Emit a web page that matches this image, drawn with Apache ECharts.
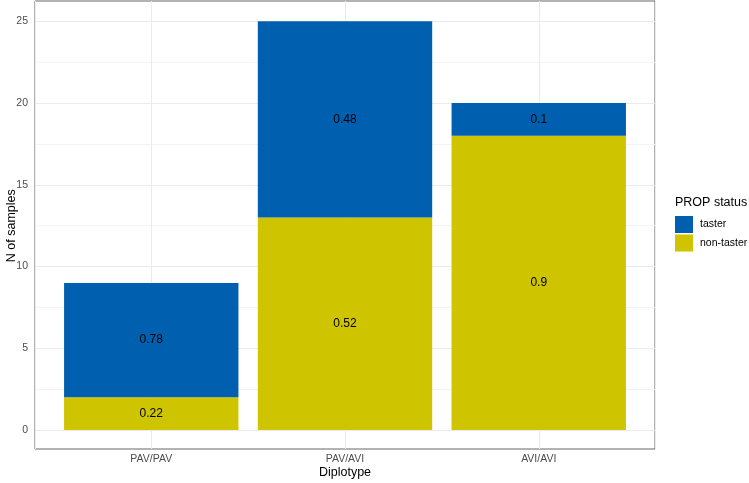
<!DOCTYPE html>
<html>
<head>
<meta charset="utf-8">
<script src="https://cdn.jsdelivr.net/npm/echarts@6/dist/echarts.min.js"></script>
<style>html,body{margin:0;padding:0;background:#fff}#c{width:749px;height:483px}</style>
</head>
<body>
<div id="c"></div>
<script>
const categories = ['PAV/PAV', 'PAV/AVI', 'AVI/AVI'];
const nonTaster = [2, 13, 18];
const taster = [7, 12, 2];
const nonTasterProp = ['0.22', '0.52', '0.9'];
const tasterProp = ['0.78', '0.48', '0.1'];
const yTicks = [0, 5, 10, 15, 20, 25];

const BLUE = '#0060AF';
const YELLOW = '#CFC400';
const FONT = 'Liberation Sans';

const chart = echarts.init(document.getElementById('c'), null, {renderer: 'canvas'});

// panel: x 35..655 covers category range 0.4..3.6 (ggplot expansion 0.6)
const PL = 35, PW = 620, unitW = PW / 3.2;

const option = {
  animation: false,
  textStyle: {fontFamily: FONT},
  title: {
    text: 'PROP status', left: 675, top: 196, padding: 0,
    textStyle: {fontFamily: FONT, fontSize: 12.5, fontWeight: 'normal', color: '#000'}
  },
  legend: {
    data: ['taster', 'non-taster'],
    orient: 'vertical', left: 675, top: 216, padding: 0,
    itemWidth: 18, itemHeight: 17, itemGap: 1.5, icon: 'rect',
    textStyle: {fontFamily: FONT, fontSize: 10.5, color: '#000', padding: [0, 0, 0, 2]}
  },
  grid: [
    {left: PL, top: 1, width: PW, height: 448, show: true, borderColor: '#666', borderWidth: 1,
      backgroundColor: 'transparent', containLabel: false, outerBoundsMode: 'none'},
    {left: PL + 0.1 * unitW, top: 21.35, width: 3 * unitW, height: 408.65, containLabel: false, outerBoundsMode: 'none'},
    {left: PL, top: 21.35, width: PW, height: 408.65, containLabel: false, outerBoundsMode: 'none'}
  ],
  xAxis: [
    {
      gridIndex: 0, type: 'value', min: 0.4, max: 3.6, minInterval: 1, maxInterval: 1,
      name: 'Diplotype', nameLocation: 'middle', nameGap: 17, nameMoveOverlap: false,
      nameTextStyle: {fontFamily: FONT, fontSize: 12.5, color: '#000'},
      axisLine: {show: false}, axisTick: {show: false},
      axisLabel: {
        margin: 5, fontSize: 10.5, color: '#4d4d4d', fontFamily: FONT,
        showMinLabel: false, showMaxLabel: false,
        formatter: v => (Number.isInteger(v) && categories[v - 1]) ? categories[v - 1] : ''
      },
      splitLine: {show: true, lineStyle: {color: '#ebebeb', width: 1}}
    },
    {gridIndex: 1, type: 'category', data: categories, boundaryGap: true, show: false},
    {gridIndex: 2, type: 'value', min: 0, max: 1, show: false, splitLine: {show: false}}
  ],
  yAxis: [
    {gridIndex: 0, type: 'value', min: 0, max: 1, show: false, splitLine: {show: false}},
    {gridIndex: 1, type: 'value', min: yTicks[0], max: yTicks[yTicks.length - 1], show: false, splitLine: {show: false}},
    {
      gridIndex: 2, type: 'value', min: yTicks[0], max: yTicks[yTicks.length - 1], interval: 5,
      name: 'N of samples', nameLocation: 'middle', nameGap: 17, nameMoveOverlap: false,
      nameTextStyle: {fontFamily: FONT, fontSize: 12.5, color: '#000'},
      axisLine: {show: false}, axisTick: {show: false},
      axisLabel: {margin: 7, fontSize: 10.5, color: '#4d4d4d', fontFamily: FONT},
      splitLine: {show: true, lineStyle: {color: '#ebebeb', width: 1}},
      minorTick: {show: false, splitNumber: 2},
      minorSplitLine: {show: true, lineStyle: {color: '#f3f3f3', width: 1}}
    }
  ],
  series: [
    {
      name: 'non-taster', type: 'bar', stack: 'a', xAxisIndex: 1, yAxisIndex: 1,
      barWidth: '90%', data: nonTaster, itemStyle: {color: YELLOW},
      label: {show: true, position: 'inside', fontFamily: FONT, fontSize: 12, color: '#000',
        formatter: p => nonTasterProp[p.dataIndex]}
    },
    {
      name: 'taster', type: 'bar', stack: 'a', xAxisIndex: 1, yAxisIndex: 1,
      barWidth: '90%', data: taster, itemStyle: {color: BLUE},
      label: {show: true, position: 'inside', fontFamily: FONT, fontSize: 12, color: '#000',
        formatter: p => tasterProp[p.dataIndex]}
    }
  ]
};
chart.setOption(option);
</script>
</body>
</html>
